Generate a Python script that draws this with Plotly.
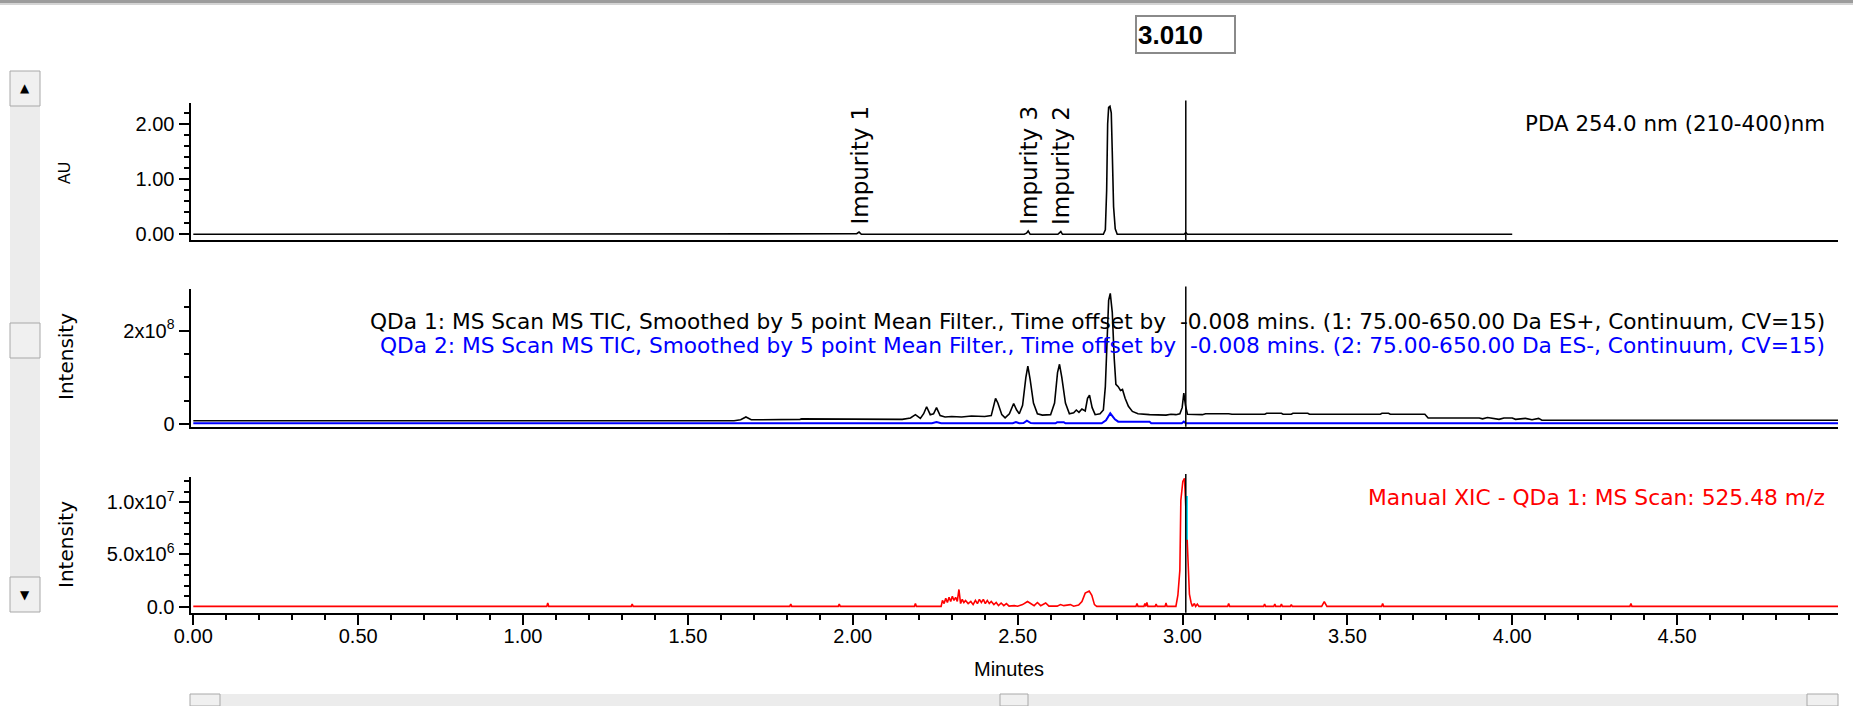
import plotly.graph_objects as go

W, H = 1853, 706

# ---------------- data ----------------
x_range = [-0.0085, 4.988]
cursor_time = 3.010
cursor_label = "3.010"

pda_time = [0.000, 2.005, 2.012, 2.019, 2.026, 2.520, 2.527, 2.532, 2.538, 2.622, 2.627, 2.631, 2.636,
            2.760, 2.766, 2.770, 2.773, 2.776, 2.780, 2.784, 2.787, 2.791, 2.796, 2.802, 3.005, 3.010,
            3.015, 4.000]
pda_au = [0.000, 0.000, 0.010, 0.040, 0.000, 0.000, 0.020, 0.060, 0.000, 0.000, 0.030, 0.050, 0.000,
          0.000, 0.080, 0.800, 2.000, 2.300, 2.320, 2.200, 1.500, 0.500, 0.100, 0.000, 0.000, 0.030,
          0.000, 0.000]

tic_pos_time = [0.000, 1.640, 1.660, 1.676, 1.692, 1.780, 1.785, 1.840, 1.845, 1.900, 1.905, 1.960,
                1.965, 2.060, 2.065, 2.150, 2.175, 2.190, 2.205, 2.215, 2.224, 2.235, 2.245, 2.254,
                2.265, 2.280, 2.300, 2.330, 2.360, 2.400, 2.420, 2.428, 2.433, 2.440, 2.452, 2.462,
                2.475, 2.488, 2.497, 2.505, 2.515, 2.525, 2.531, 2.538, 2.548, 2.560, 2.575, 2.600,
                2.612, 2.621, 2.627, 2.634, 2.645, 2.657, 2.670, 2.678, 2.686, 2.695, 2.705, 2.712,
                2.718, 2.726, 2.735, 2.750, 2.760, 2.766, 2.771, 2.776, 2.781, 2.787, 2.793, 2.798,
                2.805, 2.812, 2.818, 2.826, 2.836, 2.848, 2.865, 2.900, 2.950, 2.965, 2.980, 2.992,
                2.999, 3.004, 3.009, 3.015, 3.060, 3.070, 3.140, 3.150, 3.250, 3.255, 3.300, 3.305,
                3.330, 3.335, 3.380, 3.385, 3.600, 3.605, 3.625, 3.630, 3.735, 3.745, 3.900, 3.910,
                3.925, 3.960, 3.975, 4.000, 4.010, 4.040, 4.060, 4.080, 4.090, 4.988]
tic_pos_e6 = [7, 7, 9, 15, 9, 9, 10, 10, 11, 11, 10, 10,
              11, 11, 10, 10, 13, 20, 12, 22, 37, 20, 22, 35,
              18, 15, 16, 15, 17, 16, 18, 40, 55, 45, 20, 13,
              22, 44, 30, 22, 40, 100, 124, 95, 45, 22, 19, 20,
              45, 110, 128, 100, 45, 22, 24, 30, 25, 32, 28, 55,
              62, 35, 20, 22, 30, 80, 180, 265, 280, 240, 140, 85,
              80, 72, 74, 55, 38, 27, 22, 20, 19, 21, 20, 22,
              35, 66, 40, 21, 20, 22, 22, 21, 21, 23, 23, 21,
              21, 23, 23, 21, 21, 23, 23, 21, 21, 13, 13, 11,
              14, 10, 13, 13, 10, 12, 9, 12, 8, 8]

tic_neg_time = [0.000, 2.240, 2.254, 2.268, 2.485, 2.495, 2.505, 2.518, 2.528, 2.540, 2.550, 2.615,
                2.620, 2.640, 2.645, 2.755, 2.768, 2.781, 2.795, 2.805, 2.900, 2.905, 2.998, 3.004,
                3.010, 4.005, 4.010, 4.015, 4.988]
tic_neg_e6 = [1.5, 1.5, 4, 1.5, 1.5, 4, 1.5, 2, 7, 2, 1.5, 1.5,
              4, 4, 1.5, 1.5, 8, 23, 10, 5, 5, 1.5, 1.5, 5,
              1.5, 1.5, 3, 1.5, 1.5]

xic_time = [0.000, 1.072, 1.075, 1.078, 1.328, 1.331, 1.334, 1.809, 1.812, 1.815, 1.956, 1.959, 1.962,
            2.187, 2.190, 2.193, 2.268, 2.272, 2.277, 2.282, 2.287, 2.292, 2.297, 2.302, 2.307, 2.312,
            2.317, 2.322, 2.327, 2.332, 2.337, 2.342, 2.350, 2.358, 2.365, 2.372, 2.378, 2.384, 2.390,
            2.396, 2.402, 2.408, 2.414, 2.420, 2.428, 2.435, 2.442, 2.450, 2.458, 2.466, 2.474, 2.490,
            2.500, 2.515, 2.530, 2.540, 2.550, 2.560, 2.570, 2.585, 2.595, 2.620, 2.630, 2.640, 2.660,
            2.670, 2.685, 2.695, 2.705, 2.717, 2.725, 2.733, 2.740, 2.859, 2.862, 2.865, 2.883, 2.886,
            2.889, 2.892, 2.895, 2.917, 2.920, 2.923, 2.947, 2.950, 2.953, 2.980, 2.986, 2.992, 2.995,
            3.001, 3.006, 3.010, 3.014, 3.018, 3.021, 3.026, 3.030, 3.036, 3.040, 3.045, 3.050, 3.137,
            3.140, 3.143, 3.246, 3.249, 3.252, 3.277, 3.280, 3.283, 3.297, 3.300, 3.303, 3.327, 3.330,
            3.333, 3.422, 3.430, 3.438, 3.604, 3.607, 3.610, 4.357, 4.360, 4.363, 4.988]
xic_e6 = [0.03, 0.03, 0.35, 0.03, 0.03, 0.25, 0.03, 0.03, 0.25, 0.03, 0.03, 0.25, 0.03,
          0.03, 0.30, 0.03, 0.03, 0.60, 0.30, 0.80, 0.40, 0.90, 0.50, 1.00, 0.60, 0.90,
          0.50, 1.65, 0.30, 0.70, 0.40, 0.60, 0.30, 0.50, 0.20, 0.60, 0.30, 0.70, 0.40,
          0.70, 0.30, 0.60, 0.30, 0.50, 0.20, 0.40, 0.10, 0.35, 0.10, 0.30, 0.05, 0.10,
          0.05, 0.20, 0.50, 0.30, 0.10, 0.40, 0.10, 0.35, 0.05, 0.05, 0.20, 0.10, 0.20,
          0.05, 0.15, 0.50, 1.30, 1.50, 1.10, 0.20, 0.03, 0.03, 0.30, 0.03, 0.03, 0.30,
          0.03, 0.40, 0.03, 0.03, 0.25, 0.03, 0.03, 0.35, 0.03, 0.03, 1.10, 3.50, 10.2,
          12.0, 12.3, 9.60, 6.40, 3.00, 1.20, 0.40, 0.03, 0.30, 0.03, 0.25, 0.03, 0.03,
          0.30, 0.03, 0.03, 0.25, 0.03, 0.03, 0.25, 0.03, 0.03, 0.25, 0.03, 0.03, 0.20,
          0.03, 0.03, 0.48, 0.03, 0.03, 0.30, 0.03, 0.03, 0.30, 0.03, 0.03]

xic_mark_time = [3.012, 3.012]
xic_mark_e6 = [6.4, 10.6]

impurity_names = ["Impurity 1", "Impurity 3", "Impurity 2"]
impurity_times = [2.019, 2.532, 2.630]

x_tickvals = [0.0, 0.5, 1.0, 1.5, 2.0, 2.5, 3.0, 3.5, 4.0, 4.5]
x_ticktext = ["0.00", "0.50", "1.00", "1.50", "2.00", "2.50", "3.00", "3.50", "4.00", "4.50"]
x_minorvals = [round(0.1 * i, 1) for i in range(0, 50)]

pda_tickvals = [0, 1, 2]
pda_ticktext = ["0.00", "1.00", "2.00"]
pda_minorvals = [0.2, 0.4, 0.6, 0.8, 1.2, 1.4, 1.6, 1.8, 2.2]
pda_range = [-0.103, 2.375]

tic_tickvals = [0, 2e8]
tic_ticktext = ["0", "2x10<sup>8</sup>"]
tic_minorvals = [5e7, 1e8, 1.5e8, 2.5e8]
tic_range = [-5.8e6, 2.888e8]

xic_tickvals = [0, 5e6, 1e7]
xic_ticktext = ["0.0", "5.0x10<sup>6</sup>", "1.0x10<sup>7</sup>"]
xic_minorvals = [1e6, 2e6, 3e6, 4e6, 6e6, 7e6, 8e6, 9e6, 1.1e7, 1.2e7]
xic_range = [-5.75e5, 1.245e7]

title_pda = "PDA 254.0 nm (210-400)nm"
title_tic1 = "QDa 1: MS Scan MS TIC, Smoothed by 5 point Mean Filter., Time offset by\u00a0\u00a0-0.008 mins. (1: 75.00-650.00 Da ES+, Continuum, CV=15)"
title_tic2 = "QDa 2: MS Scan MS TIC, Smoothed by 5 point Mean Filter., Time offset by\u00a0\u00a0-0.008 mins. (2: 75.00-650.00 Da ES-, Continuum, CV=15)"
title_xic = "Manual XIC - QDa 1: MS Scan: 525.48 m/z"

# ---------------- layout helpers ----------------
def px_x(p):
    return p / W


def px_y(p):
    return 1 - p / H


XDOM = [px_x(190.5), px_x(1838)]
YDOM_TOP = [px_y(240), px_y(103.3)]
YDOM_MID = [px_y(426.7), px_y(289.3)]
YDOM_BOT = [px_y(612.7), px_y(476.7)]

TICKFONT = dict(family="Liberation Sans, Arial", size=20, color="black")
TEXTFONT = "DejaVu Sans"

fig = go.Figure()
fig.add_trace(go.Scatter(x=pda_time, y=pda_au, mode="lines", xaxis="x", yaxis="y",
                         line=dict(color="black", width=1.6), hoverinfo="skip"))
fig.add_trace(go.Scatter(x=tic_pos_time, y=[v * 1e6 for v in tic_pos_e6], mode="lines",
                         xaxis="x2", yaxis="y2", line=dict(color="black", width=1.6), hoverinfo="skip"))
fig.add_trace(go.Scatter(x=tic_neg_time, y=[v * 1e6 for v in tic_neg_e6], mode="lines",
                         xaxis="x2", yaxis="y2", line=dict(color="#0000ff", width=2), hoverinfo="skip"))
fig.add_trace(go.Scatter(x=xic_time, y=[v * 1e6 for v in xic_e6], mode="lines",
                         xaxis="x3", yaxis="y3", line=dict(color="#ff0000", width=1.6), hoverinfo="skip"))
fig.add_trace(go.Scatter(x=xic_mark_time, y=[v * 1e6 for v in xic_mark_e6], mode="lines",
                         xaxis="x3", yaxis="y3", line=dict(color="#00e5ff", width=3), hoverinfo="skip"))


def xaxis(anchor, show):
    d = dict(domain=XDOM, range=x_range, anchor=anchor, showline=True, linecolor="black",
             linewidth=2, showgrid=False, zeroline=False, fixedrange=True, automargin=False)
    if show:
        d.update(tickmode="array", tickvals=x_tickvals, ticktext=x_ticktext, ticks="outside",
                 ticklen=10, tickwidth=1.5, tickcolor="black", tickfont=TICKFONT,
                 ticklabelstandoff=-6,
                 minor=dict(tickvals=x_minorvals, ticks="outside", ticklen=5, tickwidth=1.5,
                            tickcolor="black"))
    else:
        d.update(ticks="", showticklabels=False)
    return d


def yaxis(anchor, dom, rng, tv, tt, mv):
    return dict(domain=dom, range=rng, anchor=anchor, showline=True, linecolor="black",
                linewidth=2, showgrid=False, zeroline=False, fixedrange=True, automargin=False,
                tickmode="array", tickvals=tv, ticktext=tt, ticks="outside", ticklen=10,
                tickwidth=1.5, tickcolor="black", tickfont=TICKFONT,
                minor=dict(tickvals=mv, ticks="outside", ticklen=5, tickwidth=1.5,
                           tickcolor="black"))


annotations = []
# panel titles
annotations.append(dict(text=title_pda, x=px_x(1827), y=px_y(123), xref="paper", yref="paper",
                         xanchor="right", yanchor="middle", showarrow=False,
                         font=dict(family=TEXTFONT, size=21.4, color="black")))
annotations.append(dict(text=title_tic1, x=px_x(1827), y=px_y(321), xref="paper", yref="paper",
                         xanchor="right", yanchor="middle", showarrow=False,
                         font=dict(family=TEXTFONT, size=21.7, color="black")))
annotations.append(dict(text=title_tic2, x=px_x(1827), y=px_y(345), xref="paper", yref="paper",
                         xanchor="right", yanchor="middle", showarrow=False,
                         font=dict(family=TEXTFONT, size=21.7, color="#0000ff")))
annotations.append(dict(text=title_xic, x=px_x(1827), y=px_y(497), xref="paper", yref="paper",
                         xanchor="right", yanchor="middle", showarrow=False,
                         font=dict(family=TEXTFONT, size=21.8, color="#ff0000")))
# impurity labels
for name, t in zip(impurity_names, impurity_times):
    annotations.append(dict(text=name, x=t, y=px_y(227), xref="x", yref="paper", textangle=-90,
                             xanchor="center", yanchor="bottom", showarrow=False,
                             font=dict(family=TEXTFONT, size=23, color="black")))
# axis titles
annotations.append(dict(text="AU", x=px_x(65), y=px_y(173), xref="paper", yref="paper",
                         xanchor="center", yanchor="middle", textangle=-90, showarrow=False,
                         font=dict(family="Liberation Sans", size=16, color="black")))
for yc in (357, 545):
    annotations.append(dict(text="Intensity", x=px_x(66), y=px_y(yc), xref="paper", yref="paper",
                             xanchor="center", yanchor="middle", textangle=-90, showarrow=False,
                             font=dict(family=TEXTFONT, size=20, color="black")))
annotations.append(dict(text="Minutes", x=px_x(1009), y=px_y(669), xref="paper", yref="paper",
                         xanchor="center", yanchor="middle", showarrow=False,
                         font=dict(family="Liberation Sans", size=20, color="black")))
# cursor value box
annotations.append(dict(text="<b>" + cursor_label + "</b>", x=cursor_time, y=px_y(34.5), xref="x",
                         yref="paper", xanchor="center", yanchor="middle", showarrow=False,
                         width=95, height=33, align="left", bgcolor="white",
                         bordercolor="#8a8a8a", borderwidth=2, borderpad=1,
                         font=dict(family="Liberation Sans", size=26, color="black")))
# scrollbar arrows
annotations.append(dict(text="\u25b2", x=px_x(25), y=px_y(88), xref="paper", yref="paper",
                         xanchor="center", yanchor="middle", showarrow=False,
                         font=dict(family="DejaVu Sans", size=12, color="black")))
annotations.append(dict(text="\u25bc", x=px_x(25), y=px_y(595), xref="paper", yref="paper",
                         xanchor="center", yanchor="middle", showarrow=False,
                         font=dict(family="DejaVu Sans", size=12, color="black")))

shapes = []
# cursor lines
for yr in ("y", "y2", "y3"):
    xr = {"y": "x", "y2": "x2", "y3": "x3"}[yr]
    shapes.append(dict(type="line", xref=xr, yref=yr + " domain", x0=cursor_time, x1=cursor_time,
                       y0=0, y1=1.02, line=dict(color="black", width=1.5), layer="above"))


def prect(x0, y0, x1, y1, fill, line=None, lw=0):
    return dict(type="rect", xref="paper", yref="paper", x0=px_x(x0), x1=px_x(x1),
                y0=px_y(y1), y1=px_y(y0), fillcolor=fill,
                line=dict(color=line or fill, width=lw), layer="below")


# window top border
shapes.append(prect(0, 0, W, 3, "#9c9c9c"))
shapes.append(prect(0, 3, W, 5, "#d4d4d4"))
# left scrollbar
shapes.append(prect(10, 106, 40, 577, "#ececec"))
shapes.append(prect(10, 71, 40, 106, "#f0f0f0", "#a8a8a8", 1))
shapes.append(prect(10, 323, 40, 358, "#f0f0f0", "#a8a8a8", 1))
shapes.append(prect(10, 577, 40, 612, "#f0f0f0", "#a8a8a8", 1))
# bottom scrollbar
shapes.append(prect(220, 694, 1807, 706, "#ececec"))
shapes.append(prect(190, 694, 220, 706, "#f0f0f0", "#a8a8a8", 1))
shapes.append(prect(1000, 694, 1028, 706, "#f0f0f0", "#a8a8a8", 1))
shapes.append(prect(1807, 694, 1838, 706, "#f0f0f0", "#a8a8a8", 1))

fig.update_layout(
    template="none",
    width=W, height=H,
    margin=dict(l=0, r=0, t=0, b=0, pad=0),
    paper_bgcolor="white", plot_bgcolor="white",
    showlegend=False,
    xaxis=xaxis("y", False),
    xaxis2=xaxis("y2", False),
    xaxis3=xaxis("y3", True),
    yaxis=yaxis("x", YDOM_TOP, pda_range, pda_tickvals, pda_ticktext, pda_minorvals),
    yaxis2=yaxis("x2", YDOM_MID, tic_range, tic_tickvals, tic_ticktext, tic_minorvals),
    yaxis3=yaxis("x3", YDOM_BOT, xic_range, xic_tickvals, xic_ticktext, xic_minorvals),
    annotations=annotations,
    shapes=shapes,
)

fig.write_html("out.html", config={"displayModeBar": False},
               post_script="document.body.style.margin='0px';")
